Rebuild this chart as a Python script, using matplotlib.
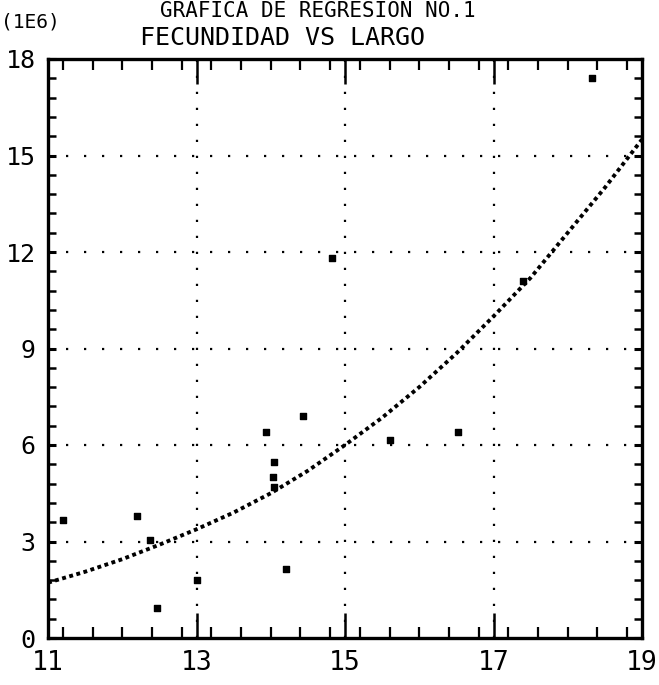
import matplotlib
matplotlib.use("Agg")
import matplotlib.pyplot as plt
from matplotlib.ticker import MultipleLocator, FixedLocator

# ---- data (fecundidad in millions vs largo) ----
largo = [11.2, 12.2, 12.37, 12.47, 13.0, 13.93, 14.04, 14.03, 14.05, 14.2,
         14.43, 14.82, 15.6, 16.52, 17.4, 18.33]
fecundidad = [3.66, 3.79, 3.04, 0.93, 1.8, 6.4, 5.47, 5.0, 4.7, 2.14,
              6.9, 11.8, 6.15, 6.4, 11.1, 17.4]

# regression curve
curve_x = [11.0, 11.5, 12.0, 12.5, 13.0, 13.5, 14.0, 14.5, 15.0, 15.5,
           16.0, 16.5, 17.0, 17.5, 18.0, 18.5, 19.0]
curve_y = [1.72, 2.06, 2.45, 2.9, 3.38, 3.9, 4.5, 5.2, 6.0, 6.85,
           7.8, 8.85, 10.0, 11.2, 12.6, 14.0, 15.5]

x_ticks = [11, 13, 15, 17, 19]
y_ticks = [0, 3, 6, 9, 12, 15, 18]
title_top = "GRAFICA DE REGRESION NO.1"
title = "FECUNDIDAD VS LARGO"
unit_label = "(1E6)"

FONT = "DejaVu Sans Mono"

fig = plt.figure(figsize=(6.59, 6.85), dpi=100)
ax = fig.add_axes([48 / 659, 47 / 685, 594 / 659, 579 / 685])

ax.set_xlim(11, 19)
ax.set_ylim(0, 18)

# grid (dotted) at major positions
for gx in [13, 15, 17]:
    ax.axvline(gx, color="black", lw=1.6, ls=(0, (1, 6.2)), zorder=1)
for gy in [3, 6, 9, 12, 15]:
    ax.axhline(gy, color="black", lw=1.6, ls=(0, (1, 7.1)), zorder=1)

# regression curve (dense dots)
ax.plot(curve_x, curve_y, color="black", lw=2.8, ls=(0, (1, 0.9)), zorder=3)

# data points
ax.scatter(largo, fecundidad, marker="s", s=24, color="black", zorder=4)

for s in ax.spines.values():
    s.set_linewidth(2.4)

ax.xaxis.set_major_locator(FixedLocator(x_ticks))
ax.yaxis.set_major_locator(FixedLocator(y_ticks))
ax.xaxis.set_minor_locator(MultipleLocator(0.4))
ax.yaxis.set_minor_locator(MultipleLocator(0.6))

ax.tick_params(axis="x", which="major", direction="in", length=18, width=1.8,
               top=True, bottom=True, pad=9, labelsize=19)
ax.tick_params(axis="x", which="minor", direction="in", length=8, width=1.6,
               top=True, bottom=True)
ax.tick_params(axis="y", which="major", direction="in", length=6, width=2.2,
               left=True, right=True, pad=9, labelsize=18)
ax.tick_params(axis="y", which="minor", direction="in", length=6, width=1.8,
               left=True, right=True)

ax.set_xticklabels([str(v) for v in x_ticks], family=FONT)
ax.set_yticklabels([str(v) for v in y_ticks], family=FONT)

fig.text(318 / 659, 1 - 1 / 685, title_top, family=FONT, fontsize=15,
         ha="center", va="top")
fig.text(282 / 659, 1 - 38 / 685, title, family=FONT, fontsize=18,
         ha="center", va="center")
fig.text(1 / 659, 1 - 22 / 685, unit_label, family=FONT, fontsize=14,
         ha="left", va="center")

fig.savefig("out.png", dpi=100)
